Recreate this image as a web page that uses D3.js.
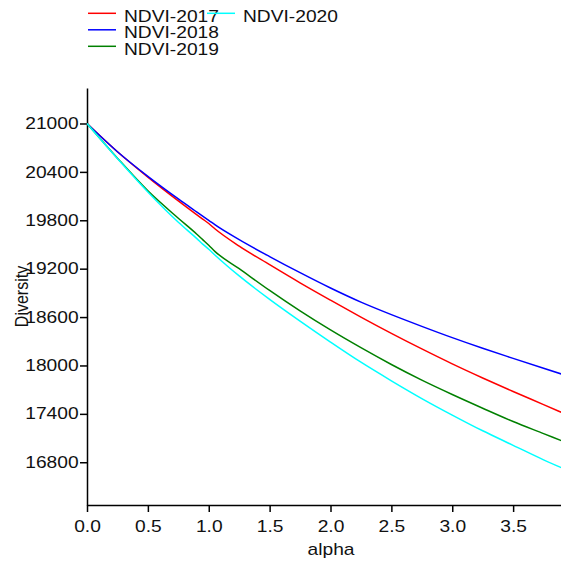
<!doctype html>
<html>
<head>
    <title>Diversity vs alpha</title>
    <style>
        body { margin: 0; overflow: hidden; background: #fff; }
        text { font-family: "Liberation Sans", Arial, sans-serif; font-size: 16px; fill: #111; }
    </style>
</head>
<body>
    <div id="chart"></div>

    <script src="https://d3js.org/d3.v7.min.js"></script>
    <script>
        // values
        var alpha = [0, 0.25, 0.5, 0.75, 0.9, 0.95, 1.0, 1.05, 1.25, 1.5, 1.75, 2.0, 2.25, 2.5, 2.75, 3.0, 3.25, 3.5, 3.75, 3.9];
        var ndvi2017 = [21000, 20650, 20335, 20040, 19870, 19815, 19760, 19695, 19480, 19250, 19025, 18810, 18600, 18398, 18205, 18020, 17845, 17677, 17515, 17417];
        var ndvi2018 = [21000, 20650, 20345, 20065, 19905, 19852, 19800, 19745, 19560, 19350, 19150, 18960, 18785, 18630, 18485, 18345, 18213, 18088, 17965, 17892];
        var ndvi2019 = [21000, 20570, 20165, 19825, 19630, 19560, 19490, 19415, 19200, 18930, 18676, 18440, 18220, 18012, 17818, 17640, 17470, 17305, 17155, 17065];
        var ndvi2020 = [21000, 20565, 20150, 19775, 19575, 19505, 19440, 19370, 19110, 18820, 18550, 18290, 18040, 17810, 17590, 17385, 17190, 17010, 16830, 16730];

        var seriesNames = ["NDVI-2017", "NDVI-2018", "NDVI-2019", "NDVI-2020"];
        var seriesColors = ["#ff0000", "#0000ff", "#008000", "#00ffff"];
        var seriesValues = [ndvi2017, ndvi2018, ndvi2019, ndvi2020];

        var xTicks = [0, 0.5, 1.0, 1.5, 2.0, 2.5, 3.0, 3.5];
        var yTicks = [16800, 17400, 18000, 18600, 19200, 19800, 20400, 21000];

        var width = 561, height = 564;
        var stretch = "scale(1.2,1)";   // the picture's text is wider than plain Arial

        var svg = d3.select("#chart")
            .append("svg")
            .attr("width", width)
            .attr("height", height);

        var x = d3.scaleLinear()
            .domain([0, 4])
            .range([87, 574]);

        var y = d3.scaleLinear()
            .domain([16270, 21440])
            .range([505, 88]);

        // X axis
        var xAxis = svg.append("g")
            .attr("transform", "translate(0,505)")
            .call(d3.axisBottom(x)
                .tickValues(xTicks)
                .tickFormat(d3.format(".1f"))
                .tickSize(7)
                .tickSizeOuter(0)
                .tickPadding(9));

        // Y axis
        var yAxis = svg.append("g")
            .attr("transform", "translate(87,0)")
            .call(d3.axisLeft(y)
                .tickValues(yTicks)
                .tickFormat(d3.format("d"))
                .tickSize(7)
                .tickSizeOuter(0)
                .tickPadding(0));

        [xAxis, yAxis].forEach(function (g) {
            g.select(".domain").attr("stroke", "#000").attr("stroke-width", 1.5);
            g.selectAll(".tick line").attr("stroke", "#000").attr("stroke-width", 1.5);
            g.selectAll(".tick text")
                .attr("fill", "#111")
                .style("font-size", "16px")
                .style("font-family", "'Liberation Sans', Arial, sans-serif")
                .attr("transform", stretch);
        });

        // axis titles
        svg.append("text")
            .attr("text-anchor", "middle")
            .attr("transform", "translate(331,555) " + stretch)
            .text("alpha");

        svg.append("text")
            .attr("text-anchor", "middle")
            .attr("transform", "translate(27.5,296.5) " + stretch + " rotate(-90)")
            .text("Diversity");

        // lines
        var line = d3.line()
            .x(function (d) { return x(d[0]); })
            .y(function (d) { return y(d[1]); })
            .curve(d3.curveMonotoneX);

        seriesValues.forEach(function (vals, i) {
            var pts = alpha.map(function (a, j) { return [a, vals[j]]; });
            svg.append("path")
                .datum(pts)
                .attr("fill", "none")
                .attr("stroke", seriesColors[i])
                .attr("stroke-width", 1.5)
                .attr("d", line);
        });

        // legend: three rows in the first column, the fourth at the top of the second
        var legendPos = [[88, 13.3], [88, 29.8], [88, 46.3], [207, 13.3]];
        seriesNames.forEach(function (name, i) {
            var lx = legendPos[i][0], ly = legendPos[i][1];
            svg.append("line")
                .attr("x1", lx).attr("x2", lx + 28)
                .attr("y1", ly).attr("y2", ly)
                .attr("stroke", seriesColors[i])
                .attr("stroke-width", 1.5);
            svg.append("text")
                .attr("transform", "translate(" + (lx + 36) + "," + (ly + 8.2) + ") " + stretch)
                .text(name);
        });
    </script>
</body>
</html>
